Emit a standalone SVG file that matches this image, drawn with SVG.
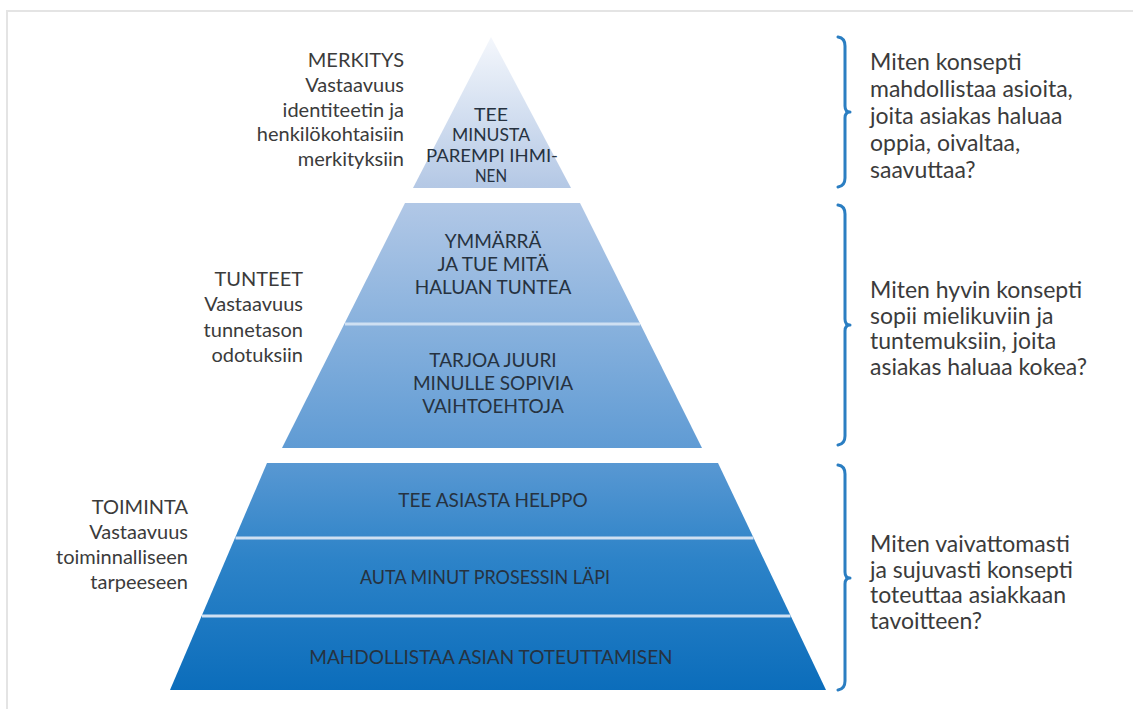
<svg xmlns="http://www.w3.org/2000/svg" width="1133" height="709" viewBox="0 0 1133 709">
  <style>
    .lbl { font-family: Lato, "Open Sans", "Liberation Sans", sans-serif; font-size: 20px; fill: #3b3b3b; text-anchor: end; }
    .q { font-family: Lato, "Open Sans", "Liberation Sans", sans-serif; font-size: 23px; fill: #3b3b3b; }
    .tier { font-family: Lato, "Liberation Sans", sans-serif; font-size: 19px; fill: #263240; text-anchor: middle; }
    .tier-s { font-size: 17px; }
    .sep { stroke: #cfe0f2; stroke-width: 3; }
    .brace { fill: none; stroke: #2b7ec2; stroke-width: 3; stroke-linecap: round; stroke-linejoin: round; }
  </style>
  <defs>
    <linearGradient id="pyrFill" gradientUnits="userSpaceOnUse" x1="0" y1="37" x2="0" y2="690">
      <stop offset="0" stop-color="#f4f7fc"/>
      <stop offset="0.23" stop-color="#b4c8e5"/>
      <stop offset="0.26" stop-color="#b0c7e6"/>
      <stop offset="0.63" stop-color="#5f9bd4"/>
      <stop offset="0.80" stop-color="#2d83c8"/>
      <stop offset="1" stop-color="#0b6dbb"/>
    </linearGradient>
  </defs>

  <!-- frame -->
  <path d="M7 709 V11 H1133" fill="none" stroke="#e4e4e4" stroke-width="2"/>

  <!-- top tier: meaning -->
  <g id="tier-merkitys">
    <polygon points="491,37 571,188 413,188" fill="url(#pyrFill)"/>
    <text class="tier tier-s" x="491" y="120.5" textLength="34" lengthAdjust="spacingAndGlyphs">TEE</text>
    <text class="tier tier-s" x="491" y="141" textLength="78" lengthAdjust="spacingAndGlyphs">MINUSTA</text>
    <text class="tier tier-s" x="492" y="161.5" textLength="132" lengthAdjust="spacingAndGlyphs">PAREMPI IHMI-</text>
    <text class="tier tier-s" x="491" y="182" textLength="32" lengthAdjust="spacingAndGlyphs">NEN</text>
  </g>

  <!-- middle tier: feelings -->
  <g id="tier-tunteet">
    <polygon points="405,203 580,203 702,448 282,448" fill="url(#pyrFill)"/>
    <line class="sep" x1="345" y1="324" x2="640" y2="324"/>
    <text class="tier" x="493" y="248">YMMÄRRÄ</text>
    <text class="tier" x="493" y="271">JA TUE MITÄ</text>
    <text class="tier" x="493" y="294">HALUAN TUNTEA</text>
    <text class="tier" x="493" y="367">TARJOA JUURI</text>
    <text class="tier" x="493" y="390">MINULLE SOPIVIA</text>
    <text class="tier" x="493" y="413">VAIHTOEHTOJA</text>
  </g>

  <!-- bottom tier: function -->
  <g id="tier-toiminta">
    <polygon points="267,463 718,463 826,690 170,690" fill="url(#pyrFill)"/>
    <line class="sep" x1="235.5" y1="538" x2="753.5" y2="538"/>
    <line class="sep" x1="202" y1="616" x2="790.5" y2="616"/>
    <text class="tier" x="493" y="507">TEE ASIASTA HELPPO</text>
    <text class="tier" x="485" y="584" textLength="250" lengthAdjust="spacingAndGlyphs">AUTA MINUT PROSESSIN LÄPI</text>
    <text class="tier" x="491" y="664">MAHDOLLISTAA ASIAN TOTEUTTAMISEN</text>
  </g>

  <!-- level labels -->
  <g id="label-merkitys" class="lbl">
    <text x="404" y="67">MERKITYS</text>
    <text x="404" y="92">Vastaavuus</text>
    <text x="404" y="116.5">identiteetin ja</text>
    <text x="404" y="141">henkilökohtaisiin</text>
    <text x="404" y="165.5">merkityksiin</text>
  </g>
  <g id="label-tunteet" class="lbl">
    <text x="303" y="285.5">TUNTEET</text>
    <text x="303" y="311">Vastaavuus</text>
    <text x="303" y="336.5">tunnetason</text>
    <text x="303" y="362">odotuksiin</text>
  </g>
  <g id="label-toiminta" class="lbl">
    <text x="188" y="514">TOIMINTA</text>
    <text x="188" y="539">Vastaavuus</text>
    <text x="188" y="564">toiminnalliseen</text>
    <text x="188" y="589">tarpeeseen</text>
  </g>

  <!-- braces -->
  <g id="connectors">
    <path class="brace" d="M838 37 Q845 38 845 46 V106 Q845 112 850 112 Q845 112 845 118 V178 Q845 186 838 187"/>
    <path class="brace" d="M838 205 Q845 206 845 214 V319 Q845 325 850 325 Q845 325 845 331 V436 Q845 444 838 445"/>
    <path class="brace" d="M838 465 Q845 466 845 474 V572 Q845 578 850 578 Q845 578 845 584 V681 Q845 689 838 690"/>
  </g>

  <!-- questions -->
  <g id="question-merkitys" class="q">
    <text x="870" y="70">Miten konsepti</text>
    <text x="870" y="97">mahdollistaa asioita,</text>
    <text x="870" y="124">joita asiakas haluaa</text>
    <text x="870" y="151">oppia, oivaltaa,</text>
    <text x="870" y="178">saavuttaa?</text>
  </g>
  <g id="question-tunteet" class="q">
    <text x="870" y="298">Miten hyvin konsepti</text>
    <text x="870" y="323.5">sopii mielikuviin ja</text>
    <text x="870" y="349">tuntemuksiin, joita</text>
    <text x="870" y="374.5">asiakas haluaa kokea?</text>
  </g>
  <g id="question-toiminta" class="q">
    <text x="870" y="552">Miten vaivattomasti</text>
    <text x="870" y="577.5">ja sujuvasti konsepti</text>
    <text x="870" y="603">toteuttaa asiakkaan</text>
    <text x="870" y="628.5">tavoitteen?</text>
  </g>
</svg>
